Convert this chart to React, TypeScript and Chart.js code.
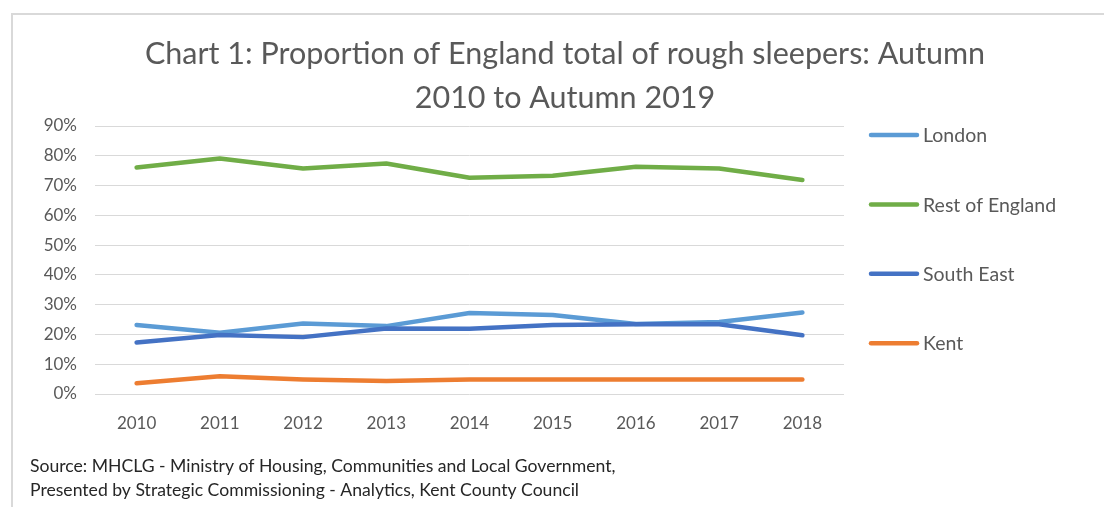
import { useEffect, useRef } from 'react';
import { Chart, registerables } from 'chart.js';

Chart.register(...registerables);

const years = ['2010', '2011', '2012', '2013', '2014', '2015', '2016', '2017', '2018'];
const london = [23.2, 20.6, 23.7, 22.8, 27.2, 26.5, 23.5, 24.2, 27.4];
const restOfEngland = [76.1, 79.1, 75.7, 77.4, 72.6, 73.3, 76.3, 75.7, 71.9];
const southEast = [17.3, 19.8, 19.1, 22.0, 21.9, 23.2, 23.4, 23.4, 19.7];
const kent = [3.6, 6.0, 4.9, 4.4, 4.9, 4.9, 4.9, 4.9, 4.9];

const seriesNames = ['London', 'Rest of England', 'South East', 'Kent'];
const seriesValues = [london, restOfEngland, southEast, kent];
const seriesColors = ['#5B9BD5', '#70AD47', '#4472C4', '#ED7D31'];

const yMax = 90;
const yStep = 10;

const titleLines = ['Chart 1: Proportion of England total of rough sleepers: Autumn', '2010 to Autumn 2019'];
const sourceLines = [
  'Source: MHCLG - Ministry of Housing, Communities and Local Government,',
  'Presented by Strategic Commissioning - Analytics, Kent County Council',
];

const FONT = 'Lato, "Open Sans", sans-serif';

const sideLegend = {
  id: 'sideLegend',
  afterDraw(chart: any) {
    const { ctx, chartArea } = chart;
    ctx.save();
    chart.data.datasets.forEach((ds: any, i: number) => {
      const y = chartArea.top + 9 + i * 69.4;
      const x0 = chartArea.right + 25;
      ctx.beginPath();
      ctx.moveTo(x0 + 2, y);
      ctx.lineTo(x0 + 48, y);
      ctx.strokeStyle = ds.borderColor;
      ctx.lineWidth = 4.5;
      ctx.lineCap = 'round';
      ctx.stroke();
      ctx.fillStyle = '#595959';
      ctx.font = '19.5px ' + FONT;
      ctx.textBaseline = 'middle';
      ctx.textAlign = 'left';
      ctx.fillText(ds.label, x0 + 54, y + 1);
    });
    ctx.restore();
  },
};

export default function App() {
  const ref = useRef<HTMLCanvasElement | null>(null);

  useEffect(() => {
    document.body.style.margin = '0';
    if (!ref.current) return;
    Chart.defaults.font.family = FONT;
    const chart = new Chart(ref.current, {
      type: 'line',
      data: {
        labels: years,
        datasets: seriesNames.map((name, i) => ({
          label: name,
          data: seriesValues[i],
          borderColor: seriesColors[i],
          backgroundColor: seriesColors[i],
          borderWidth: 4.5,
          pointRadius: 0,
          tension: 0,
          borderCapStyle: 'round' as const,
          borderJoinStyle: 'round' as const,
          order: seriesNames.length - i,
          yAxisID: 'y',
        })),
      },
      options: {
        animation: false,
        responsive: false,
        maintainAspectRatio: false,
        layout: { padding: { left: 30, right: 4, top: 0, bottom: 0 } },
        plugins: {
          legend: { display: false },
          tooltip: { enabled: false },
          title: {
            display: true,
            text: titleLines,
            color: '#595959',
            font: { size: 30.5, weight: 'normal', lineHeight: 44 / 30.5 },
            padding: { top: 32, bottom: 6 },
          },
          subtitle: {
            display: true,
            position: 'bottom',
            align: 'start',
            text: sourceLines,
            color: '#262626',
            font: { size: 17.6, weight: 'normal', lineHeight: 24 / 17.6 },
            padding: { top: 14, bottom: 5 },
          },
        },
        scales: {
          x: {
            offset: true,
            grid: { display: false, drawTicks: false },
            border: { display: false },
            ticks: { color: '#595959', font: { size: 17 }, padding: 19, maxRotation: 0 },
            afterFit: (s: any) => {
              s.height = 46;
            },
          },
          y: {
            min: 0,
            max: yMax,
            grid: { color: '#d9d9d9', lineWidth: 1, drawTicks: false },
            border: { display: false },
            ticks: {
              stepSize: yStep,
              color: '#595959',
              font: { size: 17 },
              padding: 18,
              callback: (v: any) => v + '%',
            },
            afterFit: (s: any) => {
              s.width = 65;
            },
          },
          yR: {
            position: 'right',
            display: true,
            grid: { display: false, drawTicks: false },
            border: { display: false },
            ticks: { display: false },
            afterFit: (s: any) => {
              s.width = 256;
            },
          },
        },
      },
      plugins: [sideLegend],
    } as any);
    return () => chart.destroy();
  }, []);

  return (
    <div style={{ position: 'relative', width: 1104, height: 507, overflow: 'hidden', background: '#fff' }}>
      <div
        style={{
          position: 'absolute',
          left: 11,
          top: 13,
          width: 1200,
          height: 600,
          border: '2px solid #d9d9d9',
          boxSizing: 'border-box',
        }}
      />
      <canvas ref={ref} width={1104} height={507} style={{ position: 'absolute', left: 0, top: 0 }} />
    </div>
  );
}
